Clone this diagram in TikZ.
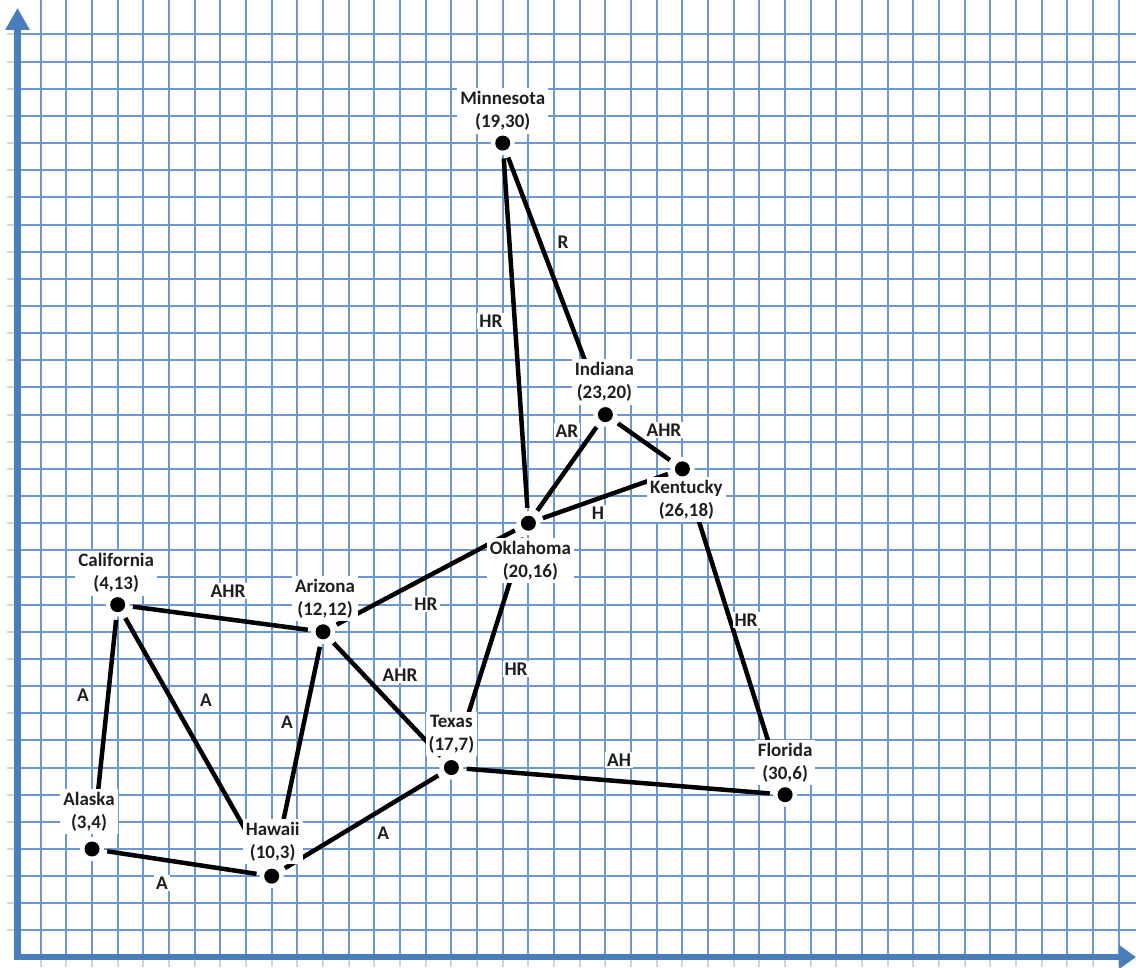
\documentclass[tikz,border=0pt]{standalone}
\usepackage{fontspec}
\setmainfont{Carlito}
\usetikzlibrary{arrows.meta}
\definecolor{gridblue}{HTML}{6C98D2}
\definecolor{axisblue}{HTML}{4A7EBB}
\definecolor{tickgray}{HTML}{D4D4D4}
\definecolor{txt}{HTML}{1E1E1E}
\begin{document}
\begin{tikzpicture}[x=0.5134cm,y=0.543cm,
  gridline/.style={draw=gridblue, line width=0.04cm},
  tickline/.style={draw=tickgray, line width=0.04cm},
  axis/.style={draw=axisblue, line width=0.13cm},
  stnode/.style={circle, minimum size=0.6cm, inner sep=0pt},
  edge/.style={draw=black, line width=0.09cm},
  lbl/.style={fill=white, inner sep=0.06cm, align=center, text=txt, font=\fontsize{10.8pt}{13.1pt}\selectfont\bfseries},
  elbl/.style={fill=white, inner sep=0.04cm, text=txt, font=\fontsize{11pt}{13pt}\selectfont\bfseries},
  halo/.style={fill=white},
  dot/.style={fill=black},
]
\useasboundingbox (-0.5843,-0.3462) rectangle (43.6697,35.2707);
% ticks outside the axes
\foreach \k in {1,...,34} \draw[tickline] (-0.33,\k) -- (0,\k);
\foreach \k in {1,...,43} \draw[tickline] (\k,0) -- (\k,-0.35);
% grid
\foreach \k in {1,...,43} \draw[gridline] (\k,0) -- (\k,35.2707);
\foreach \k in {1,...,34} \draw[gridline] (0,\k) -- (43.6697,\k);

% state positions
\node[stnode] (AK) at (3,4) {};
\node[stnode] (HI) at (10,3) {};
\node[stnode] (CA) at (4,13) {};
\node[stnode] (AZ) at (12,12) {};
\node[stnode] (TX) at (17,7) {};
\node[stnode] (OK) at (20,16) {};
\node[stnode] (IN) at (23,20) {};
\node[stnode] (KY) at (26,18) {};
\node[stnode] (MN) at (19,30) {};
\node[stnode] (FL) at (30,6) {};

% connectors
\draw[edge] (MN) -- (OK);
\draw[edge] (MN) -- (IN);
\draw[edge] (IN) -- (OK);
\draw[edge] (IN) -- (KY);
\draw[edge] (OK) -- (KY);
\draw[edge] (KY) -- (FL);
\draw[edge] (OK) -- (AZ);
\draw[edge] (OK) -- (TX);
\draw[edge] (CA) -- (AZ);
\draw[edge] (AZ) -- (TX);
\draw[edge] (CA) -- (AK);
\draw[edge] (CA) -- (HI);
\draw[edge] (AZ) -- (HI);
\draw[edge] (TX) -- (FL);
\draw[edge] (TX) -- (HI);
\draw[edge] (AK) -- (HI);

% connector labels
\node[elbl] (l1) at (18.54,23.45) {HR};
\node[elbl] (l2) at (21.35,26.36) {R};
\node[elbl] (l3) at (21.50,19.40) {AR};
\node[elbl] (l4) at (25.28,19.43) {AHR};
\node[elbl] (l5) at (22.71,16.38) {H};
\node[elbl] (l6) at (28.48,12.43) {HR};
\node[elbl] (l7) at (16.01,13.02) {HR};
\node[elbl] (l8) at (19.52,10.63) {HR};
\node[elbl] (l9) at (8.30,13.50) {AHR};
\node[elbl] (l10) at (15.00,10.41) {AHR};
\node[elbl] (l11) at (2.65,9.67) {A};
\node[elbl] (l12) at (7.44,9.49) {A};
\node[elbl] (l13) at (10.60,8.68) {A};
\node[elbl] (l14) at (23.53,7.28) {AH};
\node[elbl] (l15) at (14.34,4.59) {A};
\node[elbl] (l16) at (5.73,2.75) {A};

% state labels
\node[lbl] (tMN) at ([yshift=0.64cm]MN.center) {Minnesota\\(19,30)};
\node[lbl] (tIN) at ([xshift=-0.02cm,yshift=0.65cm]IN.center) {Indiana\\(23,20)};
\node[lbl] (tKY) at ([xshift=0.08cm,yshift=-0.61cm]KY.center) {Kentucky\\(26,18)};
\node[lbl] (tOK) at ([xshift=0.04cm,yshift=-0.75cm]OK.center) {Oklahoma\\(20,16)};
\node[lbl] (tTX) at ([yshift=0.67cm]TX.center) {Texas\\(17,7)};
\node[lbl] (tFL) at ([yshift=0.64cm]FL.center) {Florida\\(30,6)};
\node[lbl] (tHI) at ([xshift=0.02cm,yshift=0.69cm]HI.center) {Hawaii\\(10,3)};
\node[lbl] (tAK) at ([xshift=-0.06cm,yshift=0.75cm]AK.center) {Alaska\\(3,4)};
\node[lbl] (tCA) at ([xshift=-0.03cm,yshift=0.63cm]CA.center) {California\\(4,13)};
\node[lbl] (tAZ) at ([xshift=0.04cm,yshift=0.67cm]AZ.center) {Arizona\\(12,12)};

% dots
\foreach \s in {AK,HI,CA,AZ,TX,OK,IN,KY,MN,FL}{
  \fill[halo] (\s.center) circle (0.24cm);
  \fill[dot] (\s.center) circle (0.15cm);
}

% axes
\draw[axis, {Triangle[width=0.46cm,length=0.44cm]}-{Triangle[width=0.46cm,length=0.34cm]}]
  (0.097,34.98) coordinate (ytip) -- (0.097,0.02) coordinate (orig) -- (43.6697,0.02) coordinate (xtip);
\end{tikzpicture}
\end{document}
